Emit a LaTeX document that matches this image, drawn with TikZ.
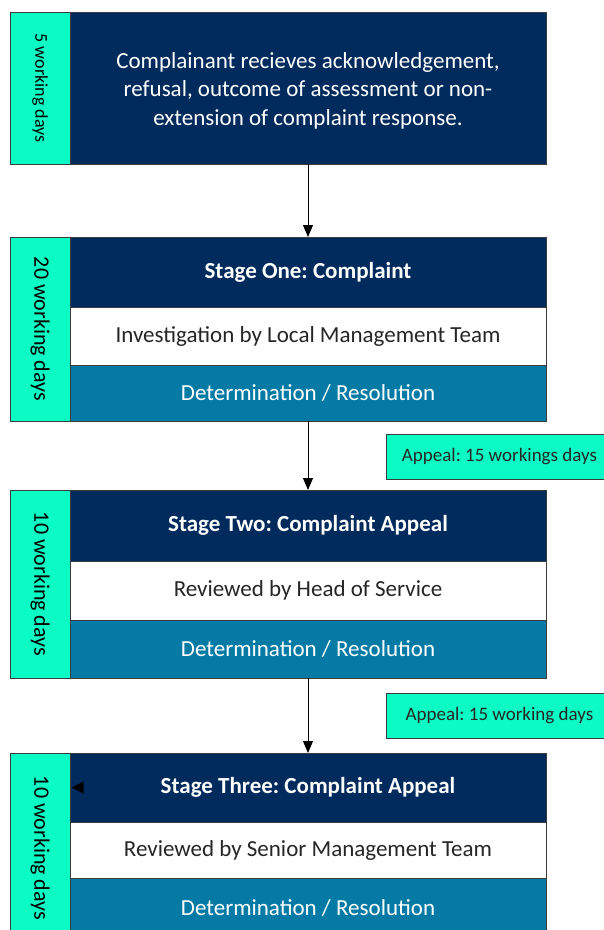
\documentclass[tikz,border=0pt]{standalone}
\usepackage{fontspec}
\setmainfont{Carlito}
\usetikzlibrary{arrows.meta,calc}

\definecolor{navy}{RGB}{0,43,92}
\definecolor{teal}{RGB}{4,122,165}
\definecolor{mint}{RGB}{10,252,196}
\definecolor{edge}{RGB}{60,60,60}

\frenchspacing
\begin{document}
\begin{tikzpicture}[x=1pt,y=-1pt,
  cell/.style={draw=edge, line width=0.9pt, inner sep=0pt, outer sep=0pt,
    anchor=north west, align=center, minimum width=476pt},
  sidebox/.style={cell, fill=mint, minimum width=60pt, text=black,
    font=\fontsize{22}{28}\selectfont},
  headbox/.style={cell, fill=navy, text=white, font=\fontsize{23}{28}\selectfont\bfseries},
  bodybox/.style={cell, fill=white, text=black!85, font=\fontsize{23}{28}\selectfont},
  footbox/.style={cell, fill=teal, text=white, font=\fontsize{23}{28}\selectfont},
  appealbox/.style={draw=edge, line width=0.9pt, fill=mint, inner sep=0pt,
    anchor=north west, minimum width=226pt, minimum height=45pt,
    text=black!85, font=\fontsize{19}{23}\selectfont},
  flow/.style={draw=black, line width=0.9pt, -{Triangle[width=10pt,length=12pt]}}
]
\useasboundingbox (0,0) rectangle (604,930);
\clip (0,0) rectangle (604,930);

% Opening step
\node[sidebox, minimum height=152pt, font=\fontsize{18}{23}\selectfont] (s0) at (10,12)
  {\rotatebox{-90}{5 working days}};
\node[headbox, minimum height=152pt] (t0) at (70,12) {};
\node[text=white, align=center, inner sep=0pt, font=\fontsize{23}{28.5}\selectfont]
  (t0text) at ($(t0.center)+(0,2.5)$)
  {Complainant recieves acknowledgement,\\refusal, outcome of assessment or non-\\extension of complaint response.};

% Stage one
\node[sidebox, minimum height=184pt] (s1) at (10,237) {\rotatebox{-90}{20 working days}};
\node[headbox, minimum height=70pt] (h1) at (70,237) {Stage One: Complaint};
\node[bodybox, minimum height=58pt] (b1) at (70,307) {Investigation by Local Management Team};
\node[footbox, minimum height=56pt] (f1) at (70,365) {Determination / Resolution};
\node[appealbox] (a1) at (386,434) {Appeal: 15 workings days};

% Stage two
\node[sidebox, minimum height=188pt] (s2) at (10,490) {\rotatebox{-90}{10 working days}};
\node[headbox, minimum height=71pt] (h2) at (70,490) {Stage Two: Complaint Appeal};
\node[bodybox, minimum height=59pt] (b2) at (70,561) {Reviewed by Head of Service};
\node[footbox, minimum height=58pt] (f2) at (70,620) {Determination / Resolution};
\node[appealbox] (a2) at (386,693) {Appeal: 15 working days};

% Stage three
\node[sidebox, minimum height=190pt] (s3) at (10,753) {\rotatebox{-90}{10 working days}};
\node[headbox, minimum height=69pt] (h3) at (70,753) {Stage Three: Complaint Appeal};
\node[bodybox, minimum height=56pt] (b3) at (70,822) {Reviewed by Senior Management Team};
\node[footbox, minimum height=60pt] (f3) at (70,878) {Determination / Resolution};

% Connectors
\draw[flow] (t0.south) -- (h1.north);
\draw[flow] (f1.south) -- (h2.north);
\draw[flow] (f2.south) -- (h3.north);

% Small marker at the left edge of the stage three header
\fill[black] ($(h3.west)+(1.5,0)$) -- ++(12,-6) -- ++(0,12) -- cycle;
\end{tikzpicture}
\end{document}
